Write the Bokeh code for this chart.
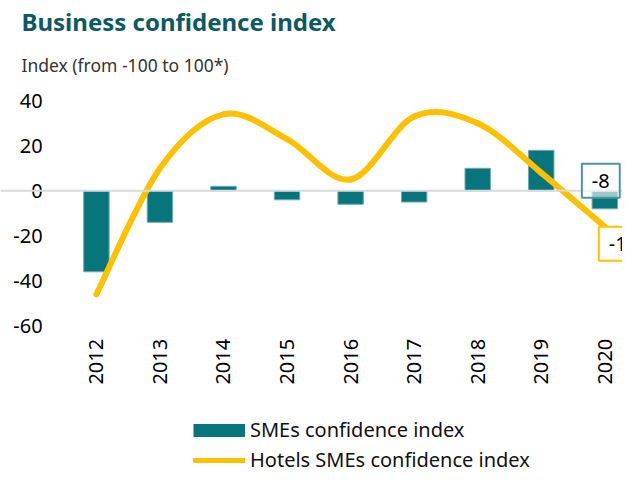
import math
from bokeh.plotting import figure
from bokeh.models import (Range1d, FixedTicker, Span, Label, Legend, LegendItem)
from bokeh.embed import file_html
from bokeh.resources import INLINE

years = ["2012", "2013", "2014", "2015", "2016", "2017", "2018", "2019", "2020"]
smes = [-36, -14, 2, -4, -6, -5, 10, 18, -8]
hotels = [-46, 10, 34, 23, 5, 33, 30, 8, -16]
y_ticks = [-60, -40, -20, 0, 20, 40]
y_tick_labels = ["-60", "-40", "-20", "0", "20", "40"]

TEAL = "#06767C"
YELLOW = "#FFC000"
FONT = "Noto Sans"

xs = list(range(len(years)))

# ---- layout: the frame fills the whole figure ----
W, H = 622, 473
X_FIRST_PX, X_STEP_PX = 95.9, 63.55      # centre of first category, spacing
Y_ZERO_PX, Y_UNIT_PX = 190.3, 2.25       # zero line from top, px per unit
x_start = -X_FIRST_PX / X_STEP_PX
x_end = (W - X_FIRST_PX) / X_STEP_PX
y_top = Y_ZERO_PX / Y_UNIT_PX
y_bot = -(H - Y_ZERO_PX) / Y_UNIT_PX

p = figure(width=W, height=H, output_backend="svg", toolbar_location=None,
           x_range=Range1d(x_start, x_end), y_range=Range1d(y_bot, y_top),
           min_border_left=0, min_border_right=0, min_border_top=0,
           min_border_bottom=0, outline_line_color=None)
p.title.visible = False
p.grid.visible = False
p.background_fill_color = "white"
p.border_fill_color = "white"

# zero line
p.add_layout(Span(location=0, dimension="width", line_color="#D9D9D9", line_width=2))

# bars
p.vbar(x=xs, top=smes, width=0.4, fill_color=TEAL, line_color="#6FAAAE", line_width=1)

# smoothed line (Catmull-Rom style control points from the data)
n = len(hotels)
x0, y0, x1, y1, cx0, cy0, cx1, cy1 = [], [], [], [], [], [], [], []
for i in range(n - 1):
    pm = (xs[max(i - 1, 0)], hotels[max(i - 1, 0)])
    pa = (xs[i], hotels[i])
    pb = (xs[i + 1], hotels[i + 1])
    pn = (xs[min(i + 2, n - 1)], hotels[min(i + 2, n - 1)])
    x0.append(pa[0]); y0.append(pa[1]); x1.append(pb[0]); y1.append(pb[1])
    cx0.append(pa[0] + (pb[0] - pm[0]) / 6); cy0.append(pa[1] + (pb[1] - pm[1]) / 6)
    cx1.append(pb[0] - (pn[0] - pa[0]) / 6); cy1.append(pb[1] - (pn[1] - pa[1]) / 6)
p.bezier(x0=x0, y0=y0, x1=x1, y1=y1, cx0=cx0, cy0=cy0, cx1=cx1, cy1=cy1,
         line_color=YELLOW, line_width=6, line_cap="round")

# legend helpers: single-point lines (draw nothing in the plot, only in the legend)
leg_bar = p.line(x=xs[:1], y=smes[:1], line_color=TEAL, line_width=13, line_cap="butt")
leg_line = p.line(x=xs[:1], y=hotels[:1], line_color=YELLOW, line_width=5, line_cap="round")

legend = Legend(items=[LegendItem(label="SMEs confidence index", renderers=[leg_bar]),
                       LegendItem(label="Hotels SMEs confidence index", renderers=[leg_line])],
                location=(193, 0), orientation="vertical", glyph_width=52,
                glyph_height=24, label_height=24, spacing=3, padding=0, margin=0,
                label_standoff=5, border_line_color=None, background_fill_alpha=0,
                label_text_font=FONT, label_text_font_size="20px", label_text_color="#111111")
p.add_layout(legend, "center")

# axes (drawn inside the frame at fixed data locations)
p.yaxis.fixed_location = -0.5
p.yaxis.ticker = FixedTicker(ticks=y_ticks)
p.yaxis.major_label_overrides = {t: s for t, s in zip(y_ticks, y_tick_labels)}
p.yaxis.axis_line_color = None
p.yaxis.major_tick_line_color = None
p.yaxis.minor_tick_line_color = None
p.yaxis.major_label_standoff = 16
p.yaxis.major_label_text_font = FONT
p.yaxis.major_label_text_font_size = "20px"
p.yaxis.major_label_text_color = "#000000"

p.xaxis.fixed_location = -60
p.xaxis.ticker = FixedTicker(ticks=xs)
p.xaxis.major_label_overrides = {i: y for i, y in enumerate(years)}
p.xaxis.major_label_orientation = math.pi / 2
p.xaxis.axis_line_color = None
p.xaxis.major_tick_line_color = None
p.xaxis.minor_tick_line_color = None
p.xaxis.major_label_standoff = 7
p.xaxis.major_label_text_font = FONT
p.xaxis.major_label_text_font_size = "20px"
p.xaxis.major_label_text_color = "#000000"

# titles (screen units from the frame's bottom-left corner)
p.add_layout(Label(x=21, y=H - 20.5, x_units="screen", y_units="screen",
                   text="Business confidence index", text_font=FONT,
                   text_font_size="24px", text_font_style="bold", text_color="#0B5A62",
                   text_baseline="alphabetic", text_align="left"))
p.add_layout(Label(x=21, y=H - 64.5, x_units="screen", y_units="screen",
                   text="Index (from -100 to 100*)", text_font=FONT,
                   text_font_size="17.5px", text_color="#333333",
                   text_baseline="alphabetic", text_align="left"))

# data labels for last values
p.add_layout(Label(x=xs[-1], y=smes[-1], text=str(smes[-1]), text_font=FONT,
                   text_font_size="20px", text_color="#000000", text_align="center",
                   text_baseline="middle", x_offset=-4, y_offset=28, padding=10,
                   border_line_color="#4A95A0", border_line_width=2,
                   background_fill_color="white", background_fill_alpha=0.6))
p.add_layout(Label(x=xs[-1], y=hotels[-1], text=str(hotels[-1]), text_font=FONT,
                   text_font_size="20px", text_color="#000000", text_align="left",
                   text_baseline="middle", x_offset=-6, y_offset=-17, padding=10,
                   border_line_color=YELLOW, border_line_width=2,
                   background_fill_color="white", background_fill_alpha=1.0))

open("out.html", "w").write(file_html(p, INLINE))
